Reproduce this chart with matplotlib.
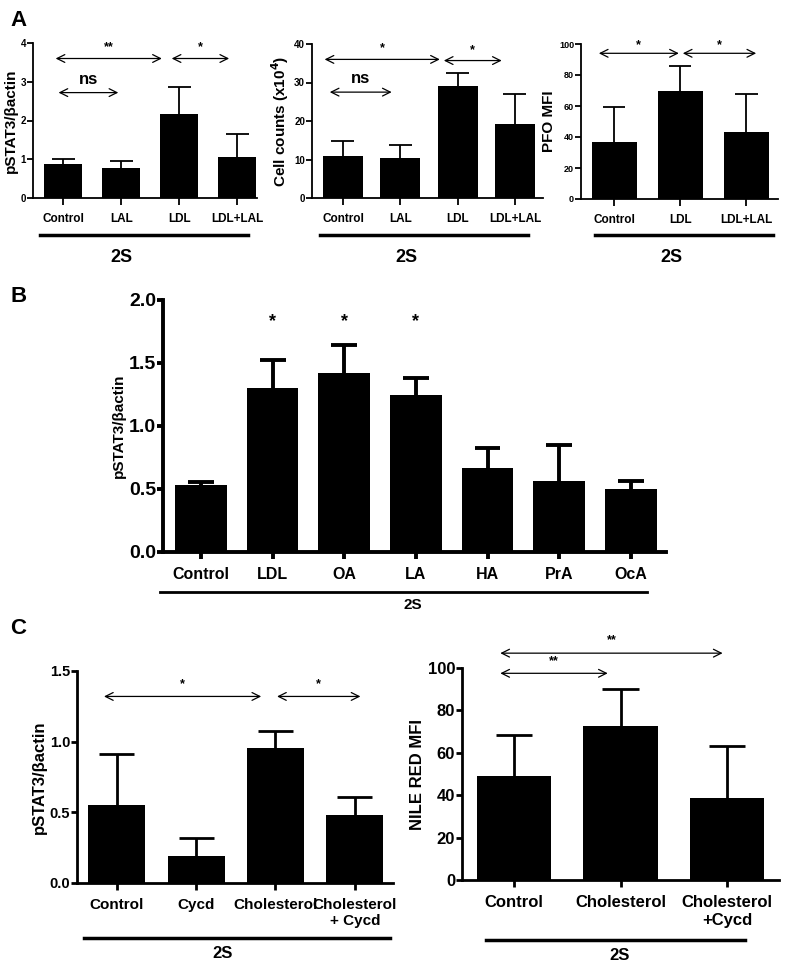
import matplotlib
matplotlib.use('Agg')
import matplotlib.pyplot as plt

plt.rcParams['font.family'] = ['Liberation Sans', 'DejaVu Sans']
plt.rcParams['font.weight'] = 'bold'

W, H = 791, 966

# Panel A1
a1_cats = ['Control', 'LAL', 'LDL', 'LDL+LAL']
a1_vals = [0.88, 0.78, 2.18, 1.05]
a1_err = [0.12, 0.18, 0.69, 0.59]

# Panel A2
a2_cats = ['Control', 'LAL', 'LDL', 'LDL+LAL']
a2_vals = [10.9, 10.3, 29.2, 19.2]
a2_err = [3.8, 3.4, 3.3, 7.8]

# Panel A3
a3_cats = ['Control', 'LDL', 'LDL+LAL']
a3_vals = [37, 70, 43.5]
a3_err = [22.5, 15.5, 24.5]

# Panel B
b_cats = ['Control', 'LDL', 'OA', 'LA', 'HA', 'PrA', 'OcA']
b_vals = [0.53, 1.30, 1.42, 1.245, 0.665, 0.56, 0.50]
b_err = [0.025, 0.22, 0.22, 0.135, 0.16, 0.29, 0.06]
b_stars = ['', '*', '*', '*', '', '', '']

# Panel C1
c1_cats = ['Control', 'Cycd', 'Cholesterol', 'Cholesterol\n+ Cycd']
c1_vals = [0.55, 0.19, 0.955, 0.48]
c1_err = [0.36, 0.13, 0.12, 0.13]

# Panel C2
c2_cats = ['Control', 'Cholesterol', 'Cholesterol\n+Cycd']
c2_vals = [49, 72.5, 38.5]
c2_err = [19.5, 17.5, 24.5]

fig = plt.figure(figsize=(W / 100, H / 100), dpi=100)


def make_ax(x0, x1, y_zero, y_top):
    return fig.add_axes([x0 / W, 1 - y_zero / H, (x1 - x0) / W, (y_zero - y_top) / H])


def bars(ax, cats, vals, errs, width, lw, ymax, yticks, xlim, tsize, csize,
         ylabel, lsize, capw):
    x = list(range(len(cats)))
    ax.bar(x, vals, width=width, color='black')
    tops = [v + e for v, e in zip(vals, errs)]
    # only the upper half of each error bar, as in the original
    ax.vlines(x, vals, tops, color='black', lw=lw)
    ax.hlines(tops, [i - capw for i in x], [i + capw for i in x],
              color='black', lw=lw)
    ax.set_xlim(*xlim)
    ax.set_ylim(0, ymax)
    ax.set_yticks(yticks)
    ax.set_xticks(x)
    ax.set_xticklabels(cats, fontsize=csize, fontweight='bold')
    ax.tick_params(axis='y', labelsize=tsize, width=lw, length=4, pad=1)
    ax.tick_params(axis='x', width=lw, length=5, pad=6)
    for lab in ax.get_yticklabels():
        lab.set_fontweight('bold')
    for s in ['top', 'right']:
        ax.spines[s].set_visible(False)
    for s in ['left', 'bottom']:
        ax.spines[s].set_linewidth(lw)
    ax.set_ylabel(ylabel, fontsize=lsize, fontweight='bold', labelpad=2)


def arrow(ax, xa, xb, y, text, ty, size=9):
    ax.annotate('', xy=(xb, y), xytext=(xa, y),
                arrowprops=dict(arrowstyle='<->', lw=0.9, color='black',
                                mutation_scale=14, shrinkA=0, shrinkB=0),
                annotation_clip=False)
    ax.text((xa + xb) / 2, ty, text, ha='center', va='center',
            fontsize=size, fontweight='bold')


def underline(x0, x1, y, ty, tx, lw=2.5, size=13):
    fig.add_artist(plt.Line2D([x0 / W, x1 / W], [1 - y / H, 1 - y / H],
                              color='black', lw=lw))
    fig.text(tx / W, 1 - ty / H, '2S', ha='center', va='center',
             fontsize=size, fontweight='bold')


# ---- A1
ax = make_ax(33, 257, 198, 43)
bars(ax, a1_cats, a1_vals, a1_err, 0.66, 1.3, 4, [0, 1, 2, 3, 4],
     (-0.52, 3.34), 7, 8.5, 'pSTAT3/\u03b2actin', 11, 0.2)
arrow(ax, -0.13, 1.7, 3.6, '**', 3.9)
arrow(ax, 1.87, 2.86, 3.6, '*', 3.9)
arrow(ax, -0.08, 0.95, 2.72, 'ns', 3.05, 12)
underline(40, 248, 235, 258, 121)

# ---- A2
ax = make_ax(312, 543, 198, 44)
bars(ax, a2_cats, a2_vals, a2_err, 0.7, 1.3, 40, [0, 10, 20, 30, 40],
     (-0.54, 3.49), 7, 8.5, 'Cell counts (x10$^{\\mathbf{4}}$)', 11, 0.2)
arrow(ax, -0.32, 1.69, 36, '*', 39)
arrow(ax, 1.76, 2.77, 35.7, '*', 38.5)
arrow(ax, -0.23, 0.85, 27.5, 'ns', 31, 12)
underline(320, 528, 235, 258, 406)

# ---- A3
ax = make_ax(581, 778, 199, 44)
bars(ax, a3_cats, a3_vals, a3_err, 0.68, 1.3, 100, [0, 20, 40, 60, 80, 100],
     (-0.5, 2.48), 6.5, 8.5, 'PFO MFI', 11, 0.17)
arrow(ax, -0.23, 0.98, 94, '*', 99)
arrow(ax, 1.04, 2.15, 94, '*', 99)
underline(595, 773, 235, 258, 671)

# ---- B
ax = make_ax(163, 666, 552, 300)
bars(ax, b_cats, b_vals, b_err, 0.72, 2.8, 2.0, [0.0, 0.5, 1.0, 1.5, 2.0],
     (-0.53, 6.49), 13, 11.5, 'pSTAT3/\u03b2actin', 11, 0.18)
ax.set_yticklabels(['0.0', '0.5', '1.0', '1.5', '2.0'], fontsize=14,
                   fontweight='heavy')
for i, s in enumerate(b_stars):
    if s:
        ax.text(i, 1.83, s, ha='center', va='center', fontsize=13,
                fontweight='bold')
underline(160, 647, 592, 605, 413, lw=2, size=11)

# ---- C1
ax = make_ax(77, 393, 883, 671)
bars(ax, c1_cats, c1_vals, c1_err, 0.72, 2.0, 1.5, [0.0, 0.5, 1.0, 1.5],
     (-0.5, 3.48), 10.5, 11, 'pSTAT3/\u03b2actin', 12, 0.22)
arrow(ax, -0.16, 1.82, 1.32, '*', 1.41)
arrow(ax, 2.02, 3.07, 1.32, '*', 1.41)
underline(84, 390, 938, 953, 223, lw=2.5, size=12)

# ---- C2
ax = make_ax(462, 779, 880, 668)
bars(ax, c2_cats, c2_vals, c2_err, 0.7, 2.0, 100, [0, 20, 40, 60, 80, 100],
     (-0.49, 2.49), 12, 12, 'NILE RED MFI', 12, 0.17)
arrow(ax, -0.13, 0.88, 97.5, '**', 103)
arrow(ax, -0.13, 1.96, 107, '**', 113)
underline(486, 745, 940, 955, 620, lw=2.5, size=12)

# panel letters
for letter, y in [('A', 20), ('B', 297), ('C', 628)]:
    fig.text(10 / W, 1 - y / H, letter, fontsize=16, fontweight='bold',
             va='center', ha='left')

fig.savefig('out.png', dpi=100)
